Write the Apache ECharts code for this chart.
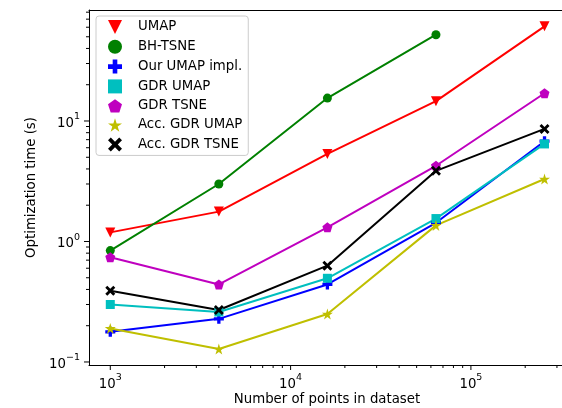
<!DOCTYPE html>
<html>
<head>
<meta charset="utf-8">
<script src="https://cdn.jsdelivr.net/npm/echarts@6/dist/echarts.min.js"></script>
<style>
  html, body { margin: 0; padding: 0; background: #fff; overflow: hidden; }
  #chart { width: 562px; height: 408px; }
</style>
</head>
<body>
<div id="chart"></div>
<script>
// dataset sizes
var sizes = [1000, 4000, 16000, 64000, 256000];

// optimization time (s)
var umap = [1.19, 1.77, 5.33, 14.6, 61];
var bhTsne = [0.84, 3.0, 15.5, 52];
var ourUmap = [0.178, 0.228, 0.44, 1.43, 6.8];
var gdrUmap = [0.30, 0.26, 0.495, 1.55, 6.45];
var gdrTsne = [0.74, 0.44, 1.31, 4.25, 17];
var accGdrUmap = [0.19, 0.128, 0.25, 1.36, 3.3];
var accGdrTsne = [0.39, 0.27, 0.63, 3.86, 8.6];

// ticks
var xMajorTicks = [1e3, 1e4, 1e5];
var yMajorTicks = [0.1, 1, 10];
var xMinorTicks = [2000, 3000, 4000, 5000, 6000, 7000, 8000, 9000,
    20000, 30000, 40000, 50000, 60000, 70000, 80000, 90000, 200000, 300000];
var yMinorTicks = [0.2, 0.3, 0.4, 0.5, 0.6, 0.7, 0.8, 0.9,
    2, 3, 4, 5, 6, 7, 8, 9, 20, 30, 40, 50, 60, 70, 80];

// axis range: the right frame edge lies outside the picture
var X_MIN = 762, X_MAX = 1620000;
var Y_MIN = 0.0944, Y_MAX = 83.4;

var SYM = {
    tri: 'path://M-1,-1 L1,-1 L0,1 Z',
    square: 'path://M0,0 L1,0 L1,1 L0,1 Z',
    plus: 'path://M-1,-0.33 L-0.33,-0.33 L-0.33,-1 L0.33,-1 L0.33,-0.33 L1,-0.33 L1,0.33 L0.33,0.33 L0.33,1 L-0.33,1 L-0.33,0.33 L-1,0.33 Z',
    pent: 'path://M0,-1 L0.951,-0.309 L0.588,0.809 L-0.588,0.809 L-0.951,-0.309 Z',
    star: 'path://M0,-1 L0.223,-0.307 L0.951,-0.309 L0.361,0.117 L0.588,0.809 L0,0.38 L-0.588,0.809 L-0.361,0.117 L-0.951,-0.309 L-0.223,-0.307 Z',
    x: 'path://M-1,-0.6 L-0.6,-1 L0,-0.4 L0.6,-1 L1,-0.6 L0.4,0 L1,0.6 L0.6,1 L0,0.4 L-0.6,1 L-1,0.6 L-0.4,0 Z'
};

function pairs(vals) {
    return vals.map(function (v, i) { return [sizes[i], v]; });
}

function lineSeries(name, vals, color, symbol, size) {
    return {
        name: name,
        type: 'line',
        data: pairs(vals),
        symbol: symbol,
        symbolSize: size,
        showAllSymbol: true,
        lineStyle: { color: color, width: 2 },
        itemStyle: { color: color },
        emphasis: { disabled: true }
    };
}

function powLabel(v) {
    var e = Math.log10(v);
    if (Math.abs(e - Math.round(e)) > 1e-6) return '';
    e = Math.round(e);
    if (e > 5) return '';
    return '{b|10}{sup|' + (e < 0 ? '\u2212' + (-e) : e) + '}';
}

var labelRich = {
    b: { fontSize: 13.3, color: '#000', fontFamily: 'DejaVu Sans', lineHeight: 18, verticalAlign: 'bottom' },
    sup: { fontSize: 9.5, color: '#000', fontFamily: 'DejaVu Sans', verticalAlign: 'top', lineHeight: 10 }
};

// tick marks drawn through the axes' own scales
var tickData = [];
xMajorTicks.forEach(function (v) { tickData.push([v, Y_MIN, 0, 5]); });
xMinorTicks.forEach(function (v) { tickData.push([v, Y_MIN, 0, 3]); });
yMajorTicks.forEach(function (v) { tickData.push([X_MIN, v, 1, 5]); });
yMinorTicks.forEach(function (v) { tickData.push([X_MIN, v, 1, 3]); });

var myChart = echarts.init(document.getElementById('chart'));

var option = {
    animation: false,
    grid: {
        left: 89, top: 10, width: 600, height: 355,
        outerBoundsMode: 'none',
        containLabel: false,
        show: false
    },
    legend: {
        orient: 'vertical',
        left: 96, top: 16,
        padding: [4, 6, 4, 12],
        itemWidth: 14, itemHeight: 14,
        itemGap: 5.8,
        backgroundColor: '#fff',
        borderColor: '#cccccc',
        borderWidth: 1,
        borderRadius: 3,
        textStyle: { fontSize: 13.3, color: '#000', fontFamily: 'DejaVu Sans', padding: [0, 0, 0, 11] },
        data: [
            { name: 'UMAP', icon: SYM.tri },
            { name: 'BH-TSNE', icon: 'circle' },
            { name: 'Our UMAP impl.', icon: SYM.plus },
            { name: 'GDR UMAP', icon: SYM.square },
            { name: 'GDR TSNE', icon: SYM.pent },
            { name: 'Acc. GDR UMAP', icon: SYM.star },
            { name: 'Acc. GDR TSNE', icon: SYM.x }
        ]
    },
    xAxis: [{
        type: 'log',
        logBase: 10,
        min: X_MIN, max: X_MAX,
        name: 'Number of points in dataset',
        nameLocation: 'start',
        nameGap: -238,
        nameTextStyle: { fontSize: 13.3, color: '#000', fontFamily: 'DejaVu Sans', align: 'center', verticalAlign: 'top', padding: [28, 0, 0, 0] },
        axisLine: { lineStyle: { color: '#000', width: 1 } },
        axisTick: { show: false },
        splitLine: { show: false },
        axisLabel: { margin: 8, formatter: powLabel, rich: labelRich }
    }, {
        // top frame line
        type: 'log',
        logBase: 10,
        position: 'top',
        min: X_MIN, max: X_MAX,
        axisLine: { lineStyle: { color: '#000', width: 1 } },
        axisTick: { show: false },
        splitLine: { show: false },
        axisLabel: { show: false }
    }],
    yAxis: {
        type: 'log',
        logBase: 10,
        min: Y_MIN, max: Y_MAX,
        name: 'Optimization time (s)',
        nameLocation: 'middle',
        nameGap: 44,
        nameTextStyle: { fontSize: 13.3, color: '#000', fontFamily: 'DejaVu Sans' },
        axisLine: { lineStyle: { color: '#000', width: 1 } },
        axisTick: { show: false },
        splitLine: { show: false },
        axisLabel: { margin: 9, formatter: powLabel, rich: labelRich }
    },
    series: [
        lineSeries('UMAP', umap, '#ff0000', SYM.tri, 10),
        lineSeries('BH-TSNE', bhTsne, '#008000', 'circle', 9),
        lineSeries('Our UMAP impl.', ourUmap, '#0000ff', SYM.plus, 10),
        lineSeries('GDR UMAP', gdrUmap, '#00bfbf', SYM.square, 9),
        lineSeries('GDR TSNE', gdrTsne, '#bf00bf', SYM.pent, 10),
        lineSeries('Acc. GDR UMAP', accGdrUmap, '#bfbf00', SYM.star, 11),
        lineSeries('Acc. GDR TSNE', accGdrTsne, '#000000', SYM.x, 10),
        {
            type: 'custom',
            silent: true,
            clip: false,
            data: tickData,
            encode: { x: 0, y: 1 },
            renderItem: function (params, api) {
                var pt = api.coord([api.value(0), api.value(1)]);
                var len = api.value(3);
                var shape = api.value(2) === 0
                    ? { x1: pt[0], y1: pt[1], x2: pt[0], y2: pt[1] + len }
                    : { x1: pt[0] - len, y1: pt[1], x2: pt[0], y2: pt[1] };
                return { type: 'line', shape: shape, style: { stroke: '#000', lineWidth: 1 } };
            }
        }
    ]
};

myChart.setOption(option);
</script>
</body>
</html>
